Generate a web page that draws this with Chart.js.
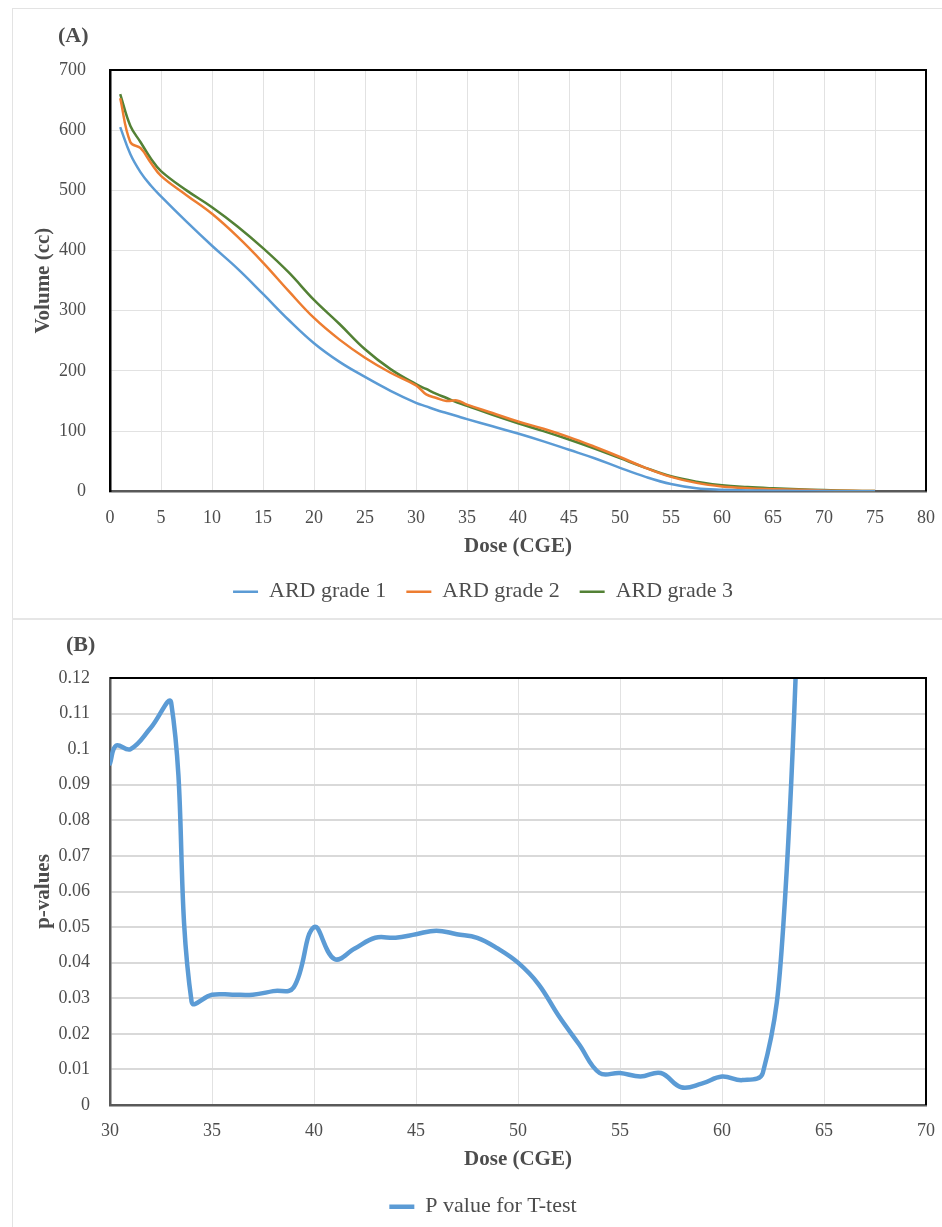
<!DOCTYPE html>
<html><head><meta charset="utf-8">
<script src="https://cdn.jsdelivr.net/npm/chart.js@4.4.1/dist/chart.umd.min.js"></script>
<style>
html,body{margin:0;padding:0;background:#fff;overflow:hidden;width:942px;height:1227px;position:relative}
#frameA{position:absolute;left:12px;top:8px;width:930px;height:610px;border-left:1px solid #e3e3e3;border-top:1px solid #e3e3e3;box-sizing:border-box}
#sep{position:absolute;left:12px;top:618px;width:930px;height:2px;background:#e6e6e6}
#frameB{position:absolute;left:12px;top:620px;width:930px;height:607px;border-left:1px solid #e3e3e3;box-sizing:border-box}
.wrap{position:absolute;left:0;width:942px}
#wa{top:8px;height:610px}
#wb{top:620px;height:608px}
</style>
</head><body>
<div id="frameA"></div><div id="sep"></div><div id="frameB"></div>
<div class="wrap" id="wa"><canvas id="ca" width="942" height="610"></canvas></div>
<div class="wrap" id="wb"><canvas id="cb" width="942" height="608"></canvas></div>
<script>
// ---------- Panel A data ----------
const doseA = [1,2,3,4,5,7.5,10,12.5,15,17.5,20,22.5,25,27.5,30,31,32,33,34,35,37.5,40,42.5,45,47.5,50,52.5,55,57.5,60,62.5,65,67.5,70,72.5,75];
const grade1 = [605,560,530,508,490,448,408,370,328,285,246,215,190,167,147,141,135,130,125,120,108,96,83,69,55,39,24,12,5,2.5,1.5,1,0.5,0.3,0.2,0.1];
const grade2 = [653,580,570,546,524,492,461,423,380,333,288,252,222,197,176,161,155,150,151,144,130,116,104,90,74,57,39,24,14,8,5,3.5,2.5,1.5,0.8,0.3];
const grade3 = [660,607,580,553,532,500,472,440,404,364,318,278,236,203,178,170,162,155,148,142,127,113,100,86,71,55,39,25,16,10,7,5,3.5,2,1,0.3];
const seriesNamesA = ['ARD grade 1','ARD grade 2','ARD grade 3'];
const xTicksA = {min:0, max:80, step:5};
const yTicksA = {min:0, max:700, step:100};

// ---------- Panel B data ----------
const doseB = [30,30.3,31,32,33,34,35,36,37,38,39,40,41,42,43,44,45,46,47,48,49,50,51,52,53,54,55,56,57,58,59,60,61,62,63,64];
const pval  = [0.096,0.101,0.100,0.106,0.113,0.029,0.031,0.031,0.031,0.032,0.033,0.050,0.041,0.044,0.047,0.047,0.048,0.049,0.048,0.047,0.044,0.040,0.034,0.025,0.017,0.009,0.009,0.008,0.009,0.005,0.006,0.008,0.007,0.009,0.050,0.180];
const seriesNameB = 'P value for T-test';
const xTicksB = {min:30, max:70, step:5};
const yTicksB = {min:0, max:0.12, step:0.01};

const FONT = "'Liberation Serif', 'DejaVu Serif', serif";
const TXT = '#4d4d4d';
Chart.defaults.font.family = FONT;
Chart.defaults.color = TXT;

const pts = (xs, ys) => xs.map((x, i) => ({x: x, y: ys[i]}));

function framePlugin(label, lx, ly) {
  return {
    id: 'frame_' + label,
    afterDatasetsDraw(chart) {
      const {ctx, chartArea: a} = chart;
      ctx.save();
      ctx.strokeStyle = '#000';
      ctx.lineWidth = 2;
      ctx.beginPath();
      ctx.moveTo(a.left, a.top);
      ctx.lineTo(a.right, a.top);
      ctx.lineTo(a.right, a.bottom);
      ctx.stroke();
      ctx.restore();
    },
    afterDraw(chart) {
      const ctx = chart.ctx;
      ctx.save();
      ctx.font = 'bold 22px ' + FONT;
      ctx.fillStyle = TXT;
      ctx.textBaseline = 'middle';
      ctx.textAlign = 'left';
      ctx.fillText(label, lx, ly);
      ctx.restore();
    }
  };
}

function makeOptions(cfg) {
  return {
    responsive: false,
    animation: false,
    layout: {padding: {left: 40, right: 16, top: cfg.padTop, bottom: cfg.padBottom}},
    plugins: {
      tooltip: {enabled: false},
      legend: {
        position: 'bottom',
        maxHeight: 45,
        labels: {
          usePointStyle: true, pointStyle: 'line', pointStyleWidth: 25,
          padding: 20, color: TXT,
          font: {size: 22, family: FONT}
        }
      }
    },
    scales: {
      x: {
        type: 'linear', min: cfg.x.min, max: cfg.x.max,
        afterFit: s => { s.height = cfg.xHeight; s.paddingLeft = 0; s.paddingRight = 0; },
        grid: {color: cfg.vGrid, lineWidth: 1, drawTicks: false},
        border: {color: '#595959', width: 2.5},
        ticks: {stepSize: cfg.x.step, padding: cfg.xTickPad, color: TXT, font: {size: 18, family: FONT}},
        title: {display: true, text: 'Dose (CGE)', color: TXT, font: {size: 21, weight: 'bold', family: FONT}, padding: {top: 0, bottom: cfg.xTitlePad}}
      },
      y: {
        min: cfg.y.min, max: cfg.y.max,
        afterFit: s => { s.width = 70; },
        grid: {color: cfg.hGrid, lineWidth: cfg.hGridW, drawTicks: false},
        border: {color: cfg.yBorder, width: 2.5},
        ticks: {stepSize: cfg.y.step, padding: cfg.yTickPad, color: TXT, font: {size: 18, family: FONT}, callback: cfg.yFmt},
        title: {display: true, text: cfg.yTitle, color: TXT, font: {size: 21, weight: 'bold', family: FONT}, padding: {top: -9, bottom: 0}}
      }
    }
  };
}

new Chart(document.getElementById('ca'), {
  type: 'line',
  data: {
    datasets: [
      {label: seriesNamesA[0], data: pts(doseA, grade1), borderColor: '#5B9BD5', backgroundColor: '#5B9BD5', borderWidth: 2.5, pointRadius: 0, tension: 0.4, fill: false},
      {label: seriesNamesA[1], data: pts(doseA, grade2), borderColor: '#ED7D31', backgroundColor: '#ED7D31', borderWidth: 2.5, pointRadius: 0, tension: 0.4, fill: false},
      {label: seriesNamesA[2], data: pts(doseA, grade3), borderColor: '#538135', backgroundColor: '#538135', borderWidth: 2.5, pointRadius: 0, tension: 0.4, fill: false}
    ]
  },
  options: makeOptions({
    padTop: 62, padBottom: 12.3, xHeight: 69.4, xTickPad: 16, xTitlePad: 1.4,
    yTickPad: 24, x: xTicksA, y: yTicksA, yTitle: 'Volume (cc)',
    vGrid: '#e2e2e2', hGrid: '#e2e2e2', hGridW: 1, yBorder: '#000',
    yFmt: v => String(v)
  }),
  plugins: [framePlugin('(A)', 58, 28)]
});

new Chart(document.getElementById('cb'), {
  type: 'line',
  data: {
    datasets: [
      {label: seriesNameB, data: pts(doseB, pval), borderColor: '#5B9BD5', backgroundColor: '#5B9BD5', borderWidth: 4.5, pointRadius: 0, tension: 0.4, fill: false, borderCapStyle: 'round', borderJoinStyle: 'round'}
    ]
  },
  options: makeOptions({
    padTop: 58, padBottom: 7.3, xHeight: 70.7, xTickPad: 15, xTitlePad: 3.8,
    yTickPad: 20, x: xTicksB, y: yTicksB, yTitle: 'p-values',
    vGrid: '#e2e2e2', hGrid: '#d9d9d9', hGridW: 2, yBorder: '#595959',
    yFmt: v => String(+v.toFixed(2))
  }),
  plugins: [framePlugin('(B)', 66, 25.7)]
});
</script>
</body></html>
